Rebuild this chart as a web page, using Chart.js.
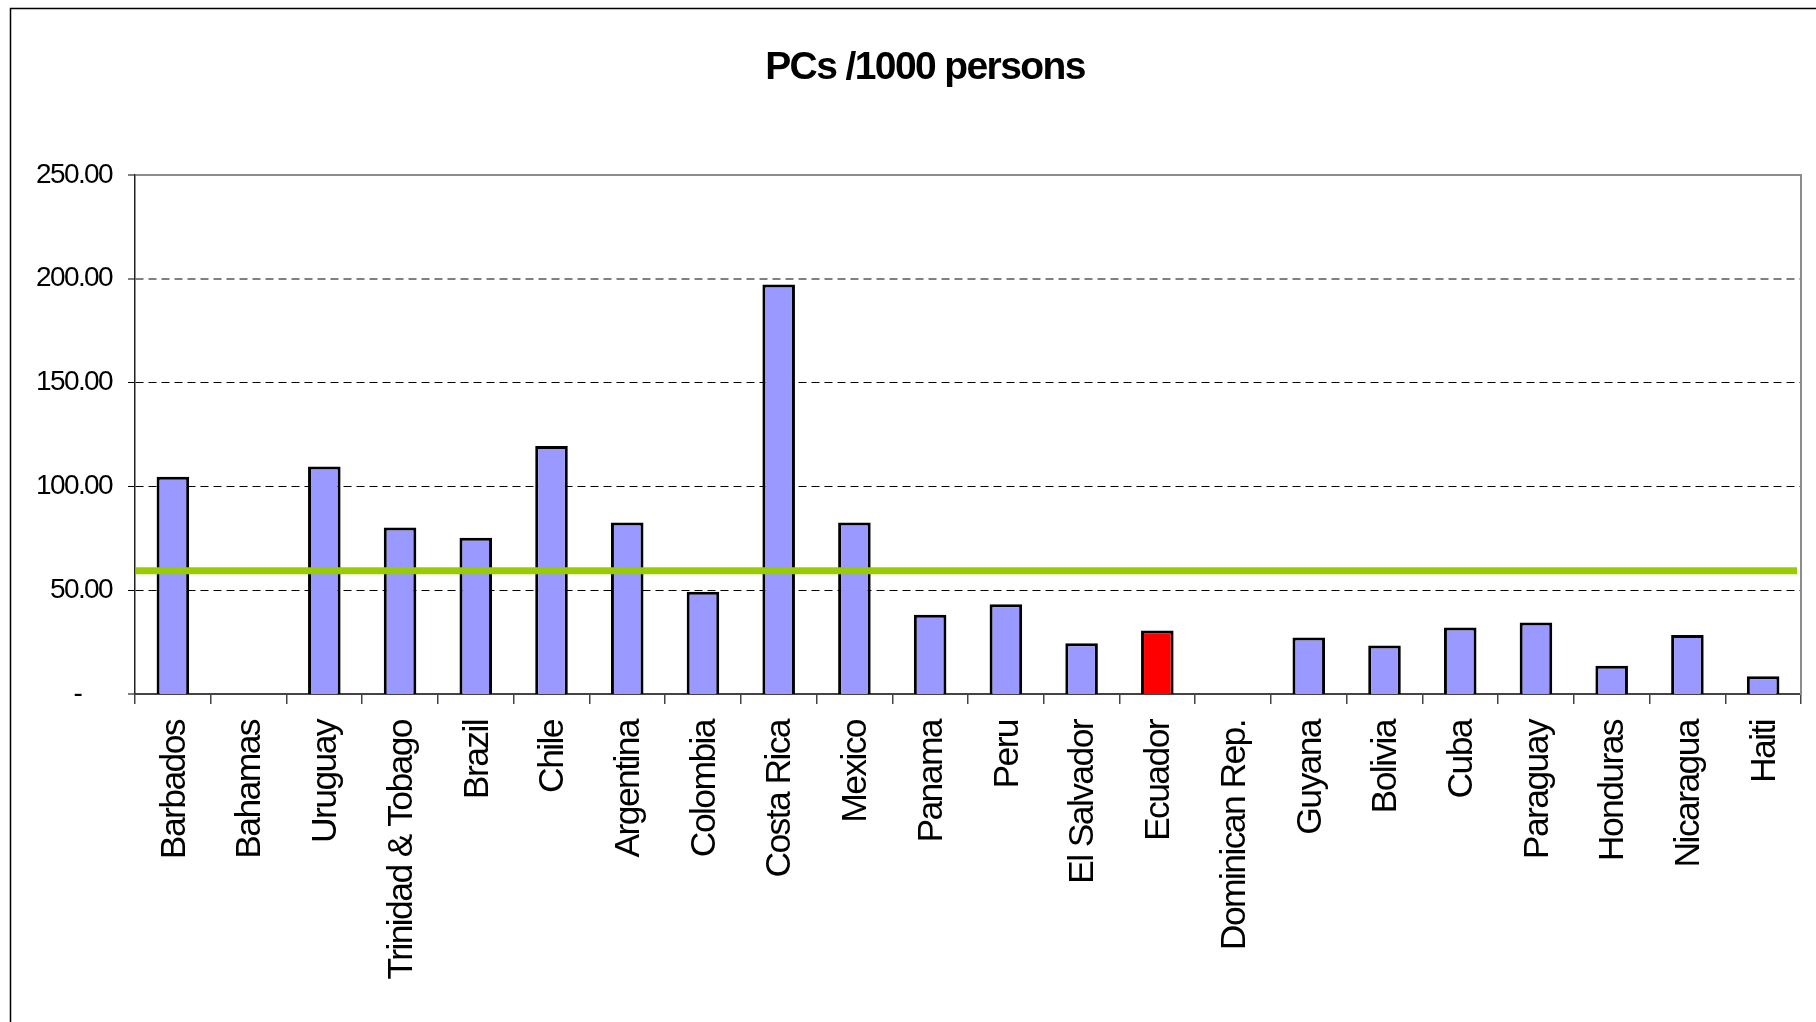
<!DOCTYPE html>
<html>
<head>
<meta charset="utf-8">
<title>PCs /1000 persons</title>
<script src="https://cdn.jsdelivr.net/npm/chart.js@4/dist/chart.umd.min.js"></script>
<style>
  html, body { margin: 0; padding: 0; background: #fff; }
  #caixa { width: 1816px; height: 1022px; }
</style>
</head>
<body>
<div id="caixa"><canvas id="grafico" width="1816" height="1022"></canvas></div>
<script>
/* dados */
const paises = [
  'Barbados', 'Bahamas', 'Uruguay', 'Trinidad & Tobago', 'Brazil', 'Chile',
  'Argentina', 'Colombia', 'Costa Rica', 'Mexico', 'Panama', 'Peru',
  'El Salvador', 'Ecuador', 'Dominican Rep.', 'Guyana', 'Bolivia', 'Cuba',
  'Paraguay', 'Honduras', 'Nicaragua', 'Haiti'
];
const pcsPorMil = [
  104.6, null, 109.6, 80.2, 75.2, 119.4,
  82.6, 49.2, 197.2, 82.6, 38.2, 43.2,
  24.4, 30.6, null, 27.2, 23.4, 32.0,
  34.4, 13.6, 28.4, 8.6
];
const destaque = 'Ecuador';
const mediaRegiao = 59.4;
const ticksY = [0, 50, 100, 150, 200, 250];

const fonte = "'Liberation Sans', Arial, sans-serif";
const cores = paises.map(p => p === destaque ? '#FF0000' : '#9999FF');

// moldura externa, espacamento das letras e linha da media
const extras = {
  id: 'extras',
  beforeDraw(chart) {
    const ctx = chart.ctx;
    ctx.letterSpacing = '-1.6px';
    ctx.save();
    ctx.strokeStyle = '#000';
    ctx.lineWidth = 1.5;
    ctx.strokeRect(10.5, 8.5, 3000, 3000);
    ctx.restore();
  },
  afterDatasetsDraw(chart) {
    const ctx = chart.ctx;
    const area = chart.chartArea;
    const y = chart.scales.y.getPixelForValue(mediaRegiao);
    ctx.save();
    ctx.strokeStyle = '#99CC00';
    ctx.lineWidth = 7;
    ctx.beginPath();
    ctx.moveTo(area.left + 1, y);
    ctx.lineTo(area.right - 4, y);
    ctx.stroke();
    ctx.restore();
  }
};

new Chart(document.getElementById('grafico').getContext('2d'), {
  type: 'bar',
  data: {
    labels: paises,
    datasets: [{
      label: 'PCs /1000 persons',
      data: pcsPorMil,
      backgroundColor: cores,
      borderColor: '#000',
      borderWidth: 3,
      barPercentage: 0.43,
      categoryPercentage: 1
    }]
  },
  options: {
    responsive: false,
    animation: false,
    devicePixelRatio: 1,
    layout: { padding: { left: 34, right: 0, top: 0, bottom: 0 } },
    scales: {
      x: {
        offset: true,
        grid: { offset: true, drawOnChartArea: false, drawTicks: true, tickLength: 10, color: '#444', lineWidth: 1.5 },
        border: { color: '#444', width: 2 },
        ticks: {
          autoSkip: false,
          minRotation: 90,
          maxRotation: 90,
          padding: 16,
          labelOffset: 2,
          color: '#000',
          font: { size: 35.5, family: fonte }
        },
        afterFit: s => {
          s.height = 328;
          s.paddingLeft = 0;
          s.paddingRight = 0;
        }
      },
      y: {
        min: 0,
        max: 250,
        afterBuildTicks: s => { s.ticks = ticksY.map(v => ({ value: v })); },
        grid: {
          color: c => c.tick.value === 250 ? '#8c8c8c' : c.tick.value === 200 ? '#808080' : '#000',
          lineWidth: c => c.tick.value === 0 ? 0 : (c.tick.value >= 200 ? 2 : 1),
          tickColor: '#000',
          tickWidth: 1,
          tickLength: 7
        },
        border: {
          color: '#222',
          width: 1.5,
          dash: c => (c.tick && c.tick.value === 250) ? [] : [8, 5]
        },
        ticks: {
          padding: 16,
          color: '#000',
          font: { size: 28, family: fonte },
          callback: v => v === 0 ? '-     ' : v.toFixed(2)
        },
        afterFit: s => { s.width = 101; }
      },
      // eixo vazio a direita, so para a borda cinza
      y2: {
        position: 'right',
        min: 0,
        max: 250,
        grid: { display: false },
        ticks: { display: false },
        border: { color: '#8c8c8c', width: 2 },
        afterFit: s => { s.width = 15; }
      }
    },
    plugins: {
      legend: { display: false },
      tooltip: { enabled: false },
      title: {
        display: true,
        text: 'PCs /1000 persons',
        color: '#000',
        font: { size: 39, weight: 'bold', family: fonte },
        padding: { top: 45, bottom: 83 }
      }
    }
  },
  plugins: [extras]
});
</script>
</body>
</html>
